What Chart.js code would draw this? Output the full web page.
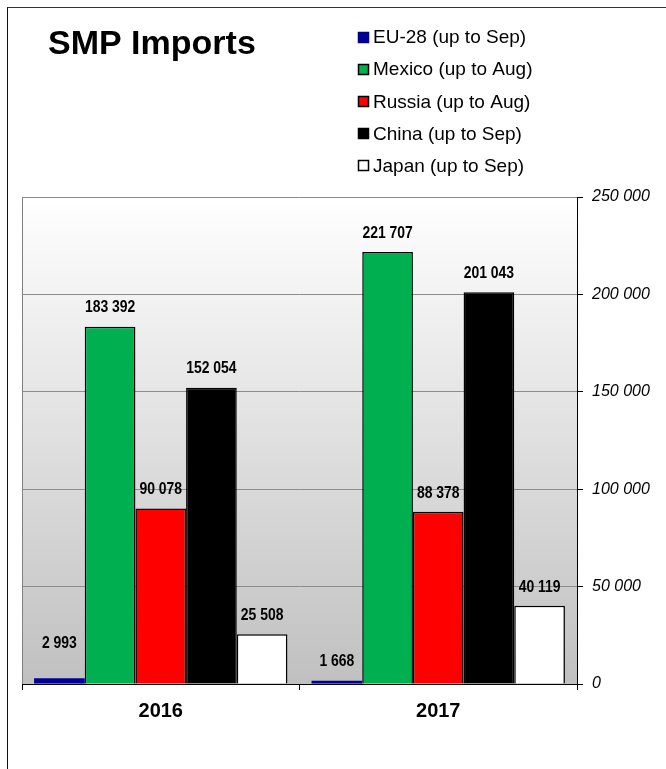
<!DOCTYPE html>
<html><head><meta charset="utf-8">
<script src="https://cdn.jsdelivr.net/npm/chart.js@4.4.1/dist/chart.umd.min.js"></script>
<style>
html,body{margin:0;padding:0;background:#fff;}
#wrap{position:relative;width:666px;height:769px;overflow:hidden;}
#frame{position:absolute;left:7px;top:7px;width:700px;height:800px;border-left:1px solid #111;border-top:1px solid #333;}
canvas{position:absolute;left:0;top:0;}
</style></head><body>
<div id="wrap"><div id="frame"></div><canvas id="c" width="666" height="769"></canvas></div>
<script>
const chartTitle = 'SMP Imports';
const categories = ['2016', '2017'];
const seriesNames = ['EU-28 (up to Sep)', 'Mexico (up to Aug)', 'Russia (up to Aug)', 'China (up to Sep)', 'Japan (up to Sep)'];
const euValues = [2993, 1668];
const mexicoValues = [183392, 221707];
const russiaValues = [90078, 88378];
const chinaValues = [152054, 201043];
const japanValues = [25508, 40119];
const yTickValues = [0, 50000, 100000, 150000, 200000, 250000];

const seriesColors = ['#000099', '#00B050', '#FF0000', '#000000', '#FFFFFF'];
const seriesBorders = ['#000080', '#000000', '#000000', '#000000', '#000000'];
const allValues = [euValues, mexicoValues, russiaValues, chinaValues, japanValues];

function fmt(v) { return String(v).replace(/\B(?=(\d{3})+(?!\d))/g, ' '); }

function pickLabelFont() {
  const c = document.createElement('canvas').getContext('2d');
  c.font = 'bold 17px monospace';
  const m = c.measureText('183 392').width;
  c.font = 'bold 17px "Liberation Sans Narrow", monospace';
  const n = c.measureText('183 392').width;
  return Math.abs(m - n) > 0.5
    ? { font: 'bold 17px "Liberation Sans Narrow"', sx: 1 }
    : { font: 'bold 17px "Liberation Sans", Arial, sans-serif', sx: 0.82 };
}
const labelFont = pickLabelFont();

const bgPlugin = {
  id: 'bg',
  beforeDraw(chart) {
    const { ctx, chartArea: a } = chart;
    const g = ctx.createLinearGradient(0, a.top, 0, a.bottom);
    g.addColorStop(0, '#ffffff');
    g.addColorStop(1, '#c0c0c0');
    ctx.save();
    ctx.fillStyle = g;
    ctx.fillRect(a.left, a.top, a.right - a.left, a.bottom - a.top);
    ctx.strokeStyle = '#808080';
    ctx.lineWidth = 1;
    ctx.beginPath();
    ctx.moveTo(a.left + 0.5, a.top);
    ctx.lineTo(a.left + 0.5, a.bottom);
    ctx.stroke();
    ctx.restore();
  }
};

const labelPlugin = {
  id: 'vlabels',
  afterDatasetsDraw(chart) {
    const ctx = chart.ctx;
    chart.data.datasets.forEach((ds, di) => {
      const meta = chart.getDatasetMeta(di);
      meta.data.forEach((bar, i) => {
        const lift = (di === 0 && i === 0) ? 35 : 19;
        ctx.save();
        ctx.font = labelFont.font;
        ctx.fillStyle = '#000';
        ctx.textAlign = 'center';
        ctx.textBaseline = 'middle';
        ctx.translate(bar.x, bar.y - lift);
        ctx.scale(labelFont.sx, 1);
        ctx.fillText(fmt(ds.data[i]), 0, 0);
        ctx.restore();
      });
    });
  }
};

const headerPlugin = {
  id: 'header',
  afterDraw(chart) {
    const ctx = chart.ctx;
    ctx.save();
    ctx.fillStyle = '#000';
    ctx.font = 'bold 34px "Liberation Sans", Arial, sans-serif';
    ctx.textAlign = 'left';
    ctx.textBaseline = 'alphabetic';
    ctx.fillText(chartTitle, 48, 54);
    ctx.font = '19px "Liberation Sans", Arial, sans-serif';
    ctx.textBaseline = 'middle';
    seriesNames.forEach((name, i) => {
      const cy = 37 + 32.2 * i;
      ctx.fillStyle = seriesColors[i];
      ctx.fillRect(358, Math.round(cy - 5.5), 11, 11);
      ctx.strokeStyle = seriesBorders[i];
      ctx.lineWidth = 1.5;
      ctx.strokeRect(358.5, Math.round(cy - 5.5) + 0.5, 10, 10);
      ctx.fillStyle = '#000';
      ctx.fillText(name, 373, cy + 1);
    });
    ctx.restore();
  }
};

new Chart(document.getElementById('c'), {
  type: 'bar',
  data: {
    labels: categories,
    datasets: seriesNames.map((n, i) => ({
      label: n,
      data: allValues[i],
      backgroundColor: seriesColors[i],
      borderColor: seriesBorders[i],
      borderWidth: i === 0 ? 0 : 1.5,
      categoryPercentage: 0.913,
      barPercentage: 1.0
    }))
  },
  options: {
    responsive: false,
    animation: false,
    devicePixelRatio: 1,
    layout: { padding: { left: 22, top: 197, right: 0, bottom: 0 } },
    plugins: { legend: { display: false }, title: { display: false }, tooltip: { enabled: false } },
    scales: {
      x: {
        offset: true,
        grid: { offset: true, drawOnChartArea: false, drawTicks: true, tickLength: 6, tickColor: '#000' },
        border: { color: '#000', width: 1 },
        ticks: { color: '#000', padding: 9, font: { family: '"Liberation Sans", Arial, sans-serif', size: 20, weight: 'bold' } },
        afterFit(s) { s.height = 85; }
      },
      y: {
        position: 'right',
        min: 0, max: 250000,
        afterBuildTicks(s) { s.ticks = yTickValues.map(v => ({ value: v })); },
        grid: { color: '#8c8c8c', tickColor: '#000', tickLength: 6, drawTicks: true },
        border: { color: '#000', width: 1 },
        ticks: {
          color: '#000', padding: 9,
          font: { family: '"Liberation Sans", Arial, sans-serif', size: 16, style: 'italic' },
          callback: v => fmt(v)
        },
        afterFit(s) { s.width = 89; }
      }
    }
  },
  plugins: [bgPlugin, labelPlugin, headerPlugin]
});
</script>
</body></html>
